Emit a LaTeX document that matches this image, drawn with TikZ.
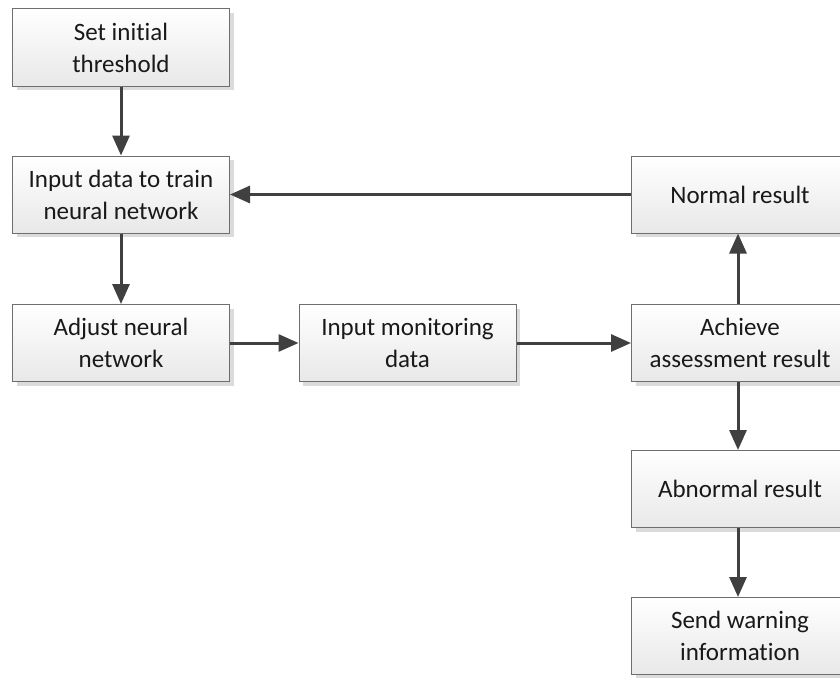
\documentclass[tikz,border=0pt]{standalone}
\usepackage{fontspec}
\setmainfont[Ligatures={NoCommon,NoRare}]{Carlito}
\usetikzlibrary{arrows.meta,shadows}
\definecolor{arrowc}{HTML}{404040}
\definecolor{borderc}{HTML}{6E6E6E}
\tikzset{
  box/.style={draw=borderc, line width=1pt, top color=white, bottom color=black!9,
    minimum width=217pt, minimum height=77pt, inner sep=2pt, align=center,
    font=\fontsize{25}{32}\selectfont, text=black!90,
    drop shadow={shadow xshift=4pt, shadow yshift=-4pt, fill=black!14, opacity=1}},
  conn/.style={draw=arrowc, line width=3pt, -{Triangle[length=20pt,width=17pt]}}
}
\begin{document}
\begin{tikzpicture}[x=1pt,y=-1pt]
\useasboundingbox (0,0) rectangle (840,677);
\clip (0,0) rectangle (840,677);
\fill[white] (0,0) rectangle (840,677);
\node[box] (b1) at (121,47.5) {Set initial\\threshold};
\node[box] (b2) at (121,194.5) {Input data to train\\neural network};
\node[box] (b3) at (121,343) {Adjust neural\\network};
\node[box] (b4) at (407.5,343) {Input monitoring\\data};
\node[box] (b5) at (740,343) {Achieve\\assessment result};
\node[box] (b6) at (740,194.5) {Normal result};
\node[box] (b7) at (740,489) {Abnormal result};
\node[box] (b8) at (740,636) {Send warning\\information};
\draw[conn] (b1.south) -- (b2.north);
\draw[conn] (b2.south) -- (b3.north);
\draw[conn] (b3.east) -- (b4.west);
\draw[conn] (b4.east) -- (b5.west);
\draw[conn] ([xshift=-2pt]b5.north) -- ([xshift=-2pt]b6.south);
\draw[conn] (b6.west) -- (b2.east);
\draw[conn] ([xshift=-2pt]b5.south) -- ([xshift=-2pt]b7.north);
\draw[conn] ([xshift=-2pt]b7.south) -- ([xshift=-2pt]b8.north);
\end{tikzpicture}
\end{document}
